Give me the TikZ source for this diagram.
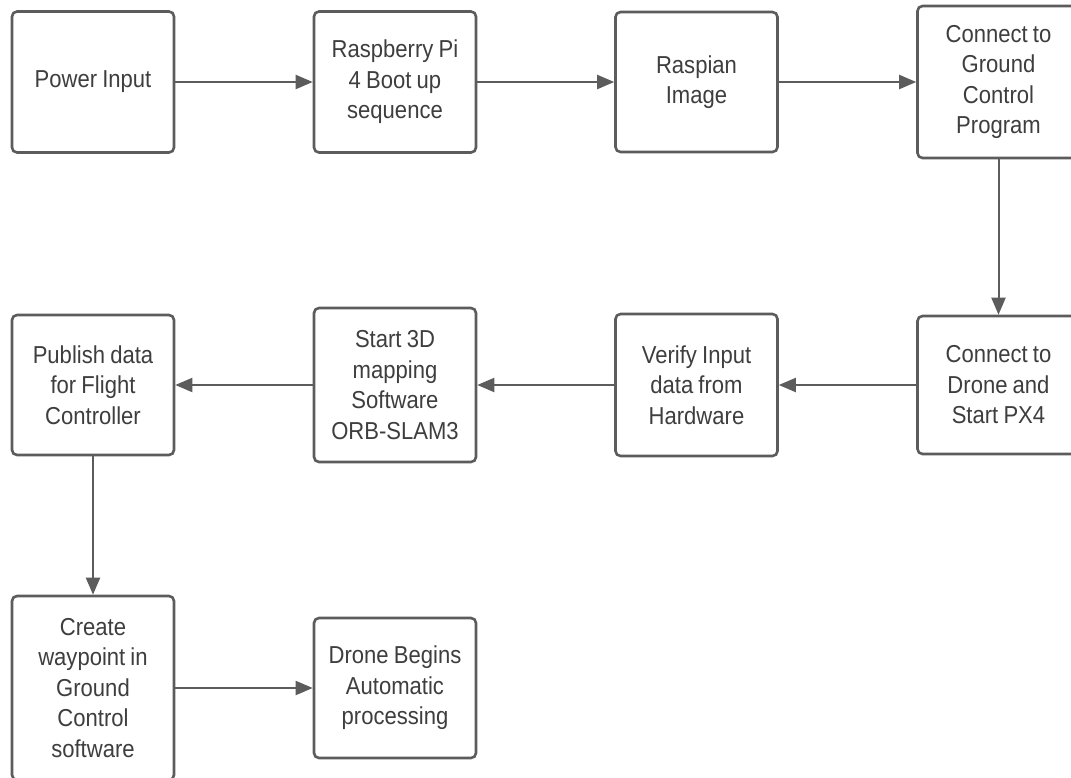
\documentclass[tikz,border=0pt]{standalone}
\usepackage{fontspec}
\setmainfont{Liberation Sans}[FakeStretch=0.9]
\usetikzlibrary{arrows.meta}
\definecolor{edgec}{RGB}{92,92,92}
\definecolor{txtc}{RGB}{62,62,62}
\begin{document}
\begin{tikzpicture}[x=1pt,y=-1pt,
  stepbox/.style={draw=edgec, line width=2.6pt, rounded corners=5pt, fill=white,
    minimum width=162pt, text width=150pt, align=center, inner sep=0pt,
    text=txtc, font=\fontsize{24.5pt}{30.5pt}\selectfont,
    execute at begin node={\spaceskip=5.2pt\relax}},
  flow/.style={draw=edgec, line width=2pt, -{Triangle[length=17pt,width=14pt]}}]
\useasboundingbox (0,0) rectangle (1071,777);
\clip (0,0) rectangle (1071,777);
\fill[white] (0,0) rectangle (1071,777);

% top row
\node[stepbox, minimum height=141pt] (b1) at (93,82) {Power Input};
\node[stepbox, minimum height=141pt] (b2) at (395,82) {Raspberry Pi\\4 Boot up\\sequence};
\node[stepbox, minimum height=140pt] (b3) at (696.5,82) {Raspian\\Image};
\node[stepbox, minimum height=152pt] (b4) at (998.5,82) {Connect to\\Ground\\Control\\Program};

% middle row
\node[stepbox, minimum height=138pt] (b5) at (998.5,385) {Connect to\\Drone and\\Start PX4};
\node[stepbox, minimum height=142pt] (b6) at (696.5,385) {Verify Input\\data from\\Hardware};
\node[stepbox, minimum height=154pt] (b7) at (395,385) {Start 3D\\mapping\\Software\\ORB-SLAM3};
\node[stepbox, minimum height=140pt] (b8) at (93,385) {Publish data\\for Flight\\Controller};

% bottom row
\node[stepbox, minimum height=184pt] (b9) at (93,688) {Create\\waypoint in\\Ground\\Control\\software};
\node[stepbox, minimum height=140pt] (b10) at (395,688) {Drone Begins\\Automatic\\processing};

% connectors
\draw[flow] (b1) -- (b2);
\draw[flow] (b2) -- (b3);
\draw[flow] (b3) -- (b4);
\draw[flow] (b4) -- (b5);
\draw[flow] (b5) -- (b6);
\draw[flow] (b6) -- (b7);
\draw[flow] (b7) -- (b8);
\draw[flow] (b8) -- (b9);
\draw[flow] (b9) -- (b10);
\end{tikzpicture}
\end{document}
